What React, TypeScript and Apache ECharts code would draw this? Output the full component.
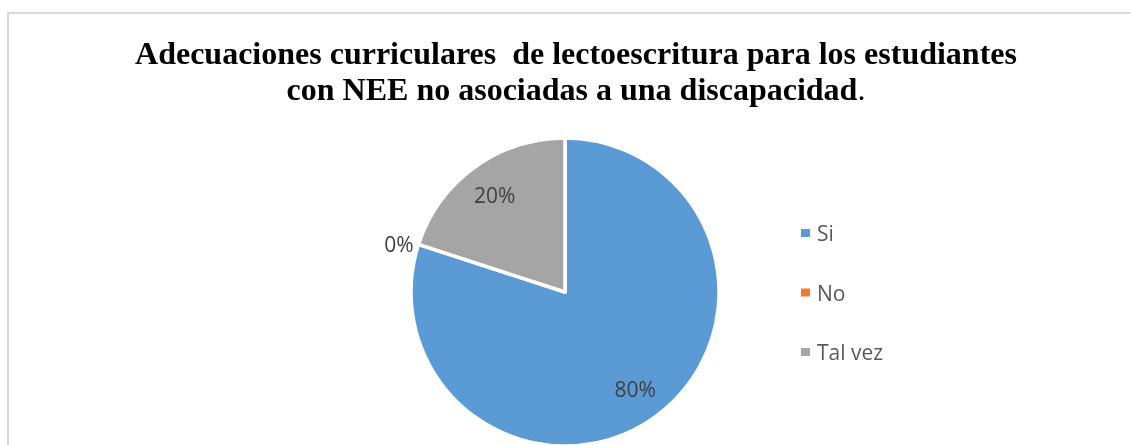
import React, { useEffect, useRef } from "react";
import * as echarts from "echarts";

const titleLine1 = "Adecuaciones curriculares  de lectoescritura para los estudiantes";
const titleLine2 = "con NEE no asociadas a una discapacidad";
const categories = ["Si", "No", "Tal vez"];
const values = [80, 0, 20];
const colors = ["#5B9BD5", "#ED7D31", "#A5A5A5"];

export default function App() {
  const ref = useRef<HTMLDivElement>(null);
  useEffect(() => {
    if (!ref.current) return;
    const chart = echarts.init(ref.current, null, { renderer: "svg" });
    const labelFont = { fontFamily: "Open Sans", fontSize: 21, color: "#404040" };
    chart.setOption({
      animation: false,
      color: colors,
      title: {
        text: `{b|${titleLine1}}\n{b|${titleLine2}}{r|.}`,
        left: 576,
        top: 35,
        padding: 0,
        textAlign: "center",
        textStyle: {
          rich: {
            b: { fontFamily: "Liberation Serif", fontWeight: "bold", fontSize: 32, color: "#000", lineHeight: 36, align: "center" },
            r: { fontFamily: "Liberation Serif", fontWeight: "normal", fontSize: 32, color: "#000", lineHeight: 36 },
          },
        },
      },
      legend: {
        orient: "vertical",
        left: 801,
        top: 222.5,
        padding: 0,
        data: categories,
        icon: "rect",
        itemWidth: 9,
        itemHeight: 8,
        itemGap: 38.5,
        itemStyle: { borderWidth: 0 },
        textStyle: { fontFamily: "Open Sans", fontSize: 21, color: "#595959", padding: [0, 0, 0, 2] },
      },
      graphic: [
        {
          type: "rect",
          shape: { x: 8, y: 13, width: 1300, height: 700 },
          style: { fill: "none", stroke: "#d9d9d9", lineWidth: 2 },
          silent: true,
        },
      ],
      series: [
        {
          type: "pie",
          center: [565, 292],
          radius: 154,
          startAngle: 90,
          clockwise: true,
          itemStyle: { borderColor: "#fff", borderWidth: 3.5 },
          label: {
            show: true,
            position: "outside",
            formatter: "{d}%",
            ...labelFont,
          },
          labelLine: { show: false, length: 0, length2: 0 },
          data: categories.map((c, i) => ({
            name: c,
            value: values[i],
            label: { show: values[i] === 0 },
          })),
        },
        {
          type: "pie",
          center: [565, 292],
          radius: [0, 233],
          startAngle: 90,
          clockwise: true,
          silent: true,
          itemStyle: { color: "transparent" },
          label: {
            show: true,
            position: "inside",
            formatter: "{d}%",
            ...labelFont,
          },
          labelLine: { show: false },
          data: categories.map((c, i) => ({
            name: c,
            value: values[i],
            label: { show: values[i] !== 0 },
          })),
        },
      ],
    });
    return () => chart.dispose();
  }, []);
  return (
    <div
      ref={ref}
      style={{ position: "fixed", left: 0, top: 0, width: 1131, height: 445 }}
    />
  );
}
